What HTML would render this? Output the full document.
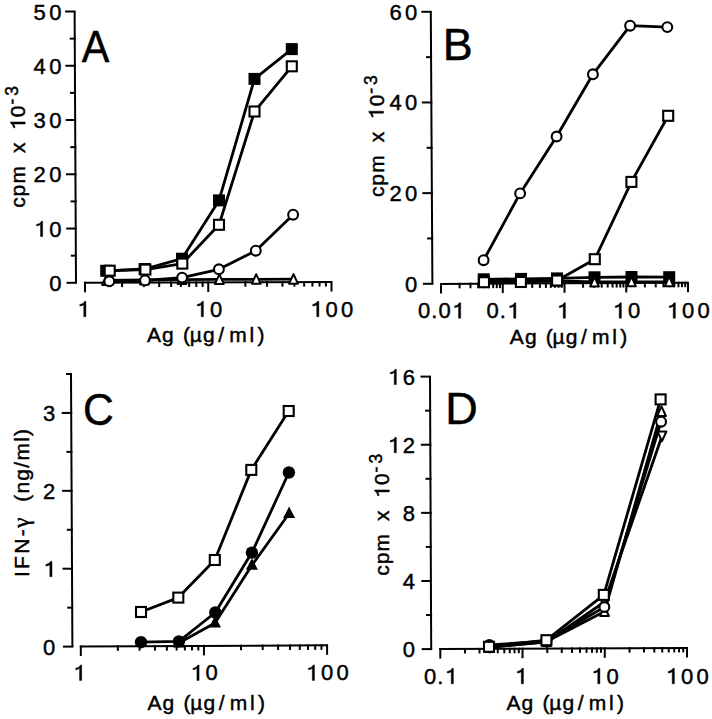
<!DOCTYPE html>
<html><head><meta charset="utf-8"><style>
html,body{margin:0;padding:0;background:#fff;}
body{width:712px;height:719px;overflow:hidden;}
svg{display:block;}
text{font-family:"Liberation Sans", sans-serif;fill:#000;stroke:#000;stroke-width:0.45px;}
</style></head><body>
<svg width="712" height="719" viewBox="0 0 712 719">
<rect width="712" height="719" fill="#fff"/>
<g stroke="#000" fill="none" stroke-linecap="butt">
<line x1="76" y1="282.8" x2="74.6" y2="11.5" stroke-width="2"/>
<line x1="66.5" y1="282.8" x2="77" y2="282.8" stroke-width="2"/>
<line x1="66.22" y1="228.54" x2="76.72" y2="228.54" stroke-width="2"/>
<line x1="65.94" y1="174.28" x2="76.44" y2="174.28" stroke-width="2"/>
<line x1="65.66" y1="120.02" x2="76.16" y2="120.02" stroke-width="2"/>
<line x1="65.38" y1="65.76" x2="75.88" y2="65.76" stroke-width="2"/>
<line x1="65.1" y1="11.5" x2="75.6" y2="11.5" stroke-width="2"/>
<line x1="70.86" y1="255.67" x2="76.86" y2="255.67" stroke-width="2"/>
<line x1="70.58" y1="201.41" x2="76.58" y2="201.41" stroke-width="2"/>
<line x1="70.3" y1="147.15" x2="76.3" y2="147.15" stroke-width="2"/>
<line x1="70.02" y1="92.89" x2="76.02" y2="92.89" stroke-width="2"/>
<line x1="69.74" y1="38.63" x2="75.74" y2="38.63" stroke-width="2"/>
<text x="64.7" y="290.8" font-size="22" text-anchor="end" letter-spacing="3.3">0</text>
<text x="64.7" y="236.54" font-size="22" text-anchor="end" letter-spacing="3.3">&#x2007;0</text>
<path transform="translate(33.63,236.54) scale(0.010742,-0.010742)" d="M640 0H840V1430H720Q620 1180 270 1130V990Q500 1010 640 1120Z" fill="#000" stroke="#000" stroke-width="41.89"/>
<text x="64.7" y="182.28" font-size="22" text-anchor="end" letter-spacing="3.3">20</text>
<text x="64.7" y="128.02" font-size="22" text-anchor="end" letter-spacing="3.3">30</text>
<text x="64.7" y="73.76" font-size="22" text-anchor="end" letter-spacing="3.3">40</text>
<text x="64.7" y="19.5" font-size="22" text-anchor="end" letter-spacing="3.3">50</text>
<line x1="84" y1="282.8" x2="331.5" y2="282" stroke-width="2"/>
<line x1="85" y1="281.8" x2="85" y2="292.3" stroke-width="2"/>
<line x1="122.1" y1="281.68" x2="122.1" y2="287.18" stroke-width="2"/>
<line x1="143.81" y1="281.61" x2="143.81" y2="287.11" stroke-width="2"/>
<line x1="159.2" y1="281.56" x2="159.2" y2="287.06" stroke-width="2"/>
<line x1="171.15" y1="281.52" x2="171.15" y2="287.02" stroke-width="2"/>
<line x1="180.91" y1="281.49" x2="180.91" y2="286.99" stroke-width="2"/>
<line x1="189.16" y1="281.46" x2="189.16" y2="286.96" stroke-width="2"/>
<line x1="196.31" y1="281.44" x2="196.31" y2="286.94" stroke-width="2"/>
<line x1="202.61" y1="281.42" x2="202.61" y2="286.92" stroke-width="2"/>
<line x1="208.25" y1="281.4" x2="208.25" y2="291.9" stroke-width="2"/>
<line x1="245.35" y1="281.28" x2="245.35" y2="286.78" stroke-width="2"/>
<line x1="267.06" y1="281.21" x2="267.06" y2="286.71" stroke-width="2"/>
<line x1="282.45" y1="281.16" x2="282.45" y2="286.66" stroke-width="2"/>
<line x1="294.4" y1="281.12" x2="294.4" y2="286.62" stroke-width="2"/>
<line x1="304.16" y1="281.09" x2="304.16" y2="286.59" stroke-width="2"/>
<line x1="312.41" y1="281.06" x2="312.41" y2="286.56" stroke-width="2"/>
<line x1="319.56" y1="281.04" x2="319.56" y2="286.54" stroke-width="2"/>
<line x1="325.86" y1="281.02" x2="325.86" y2="286.52" stroke-width="2"/>
<line x1="331.5" y1="281" x2="331.5" y2="291.5" stroke-width="2"/>
<text x="84.65" y="316.7" font-size="22" text-anchor="middle" letter-spacing="3.3">&#x2007;</text>
<path transform="translate(76.88,316.7) scale(0.010742,-0.010742)" d="M640 0H840V1430H720Q620 1180 270 1130V990Q500 1010 640 1120Z" fill="#000" stroke="#000" stroke-width="41.89"/>
<text x="209.9" y="316.7" font-size="22" text-anchor="middle" letter-spacing="3.3">&#x2007;0</text>
<path transform="translate(194.36,316.7) scale(0.010742,-0.010742)" d="M640 0H840V1430H720Q620 1180 270 1130V990Q500 1010 640 1120Z" fill="#000" stroke="#000" stroke-width="41.89"/>
<text x="333.15" y="316.7" font-size="22" text-anchor="middle" letter-spacing="3.3">&#x2007;00</text>
<path transform="translate(309.85,316.7) scale(0.010742,-0.010742)" d="M640 0H840V1430H720Q620 1180 270 1130V990Q500 1010 640 1120Z" fill="#000" stroke="#000" stroke-width="41.89"/>
<text transform="translate(81.8,61.5) scale(0.92,1)" font-size="45">A</text>
<g transform="translate(25.2,208.1) rotate(-90)"><text x="0.38 11.68 24.55 45 55.05 70 77.51 90.96" font-size="21">cpm x &#x2007;0<tspan x="103.49 112.43" font-size="17.5" dy="-7">-3</tspan></text><path transform="translate(77.51,0) scale(0.010254,-0.010254)" d="M640 0H840V1430H720Q620 1180 270 1130V990Q500 1010 640 1120Z" fill="#000" stroke="#000" stroke-width="43.89"/></g>
<text x="146.9 162.1 172.5 182.9 189.7 203 218.3 229.15 249.56 257.4" y="341.9" font-size="21">Ag (µg/ml)</text>
<polyline fill="none" stroke-width="2.8" stroke-linejoin="round" points="106.5,280.4 144.5,280 182,279.6 219.4,279.4 256.2,279.3 293.5,279.2"/>
<polyline fill="none" stroke-width="2.8" stroke-linejoin="round" points="109.3,281.3 145,280.4 182.1,277.6 218.9,269.3 255.8,250.7 293.1,214.7"/>
<polyline fill="none" stroke-width="2.8" stroke-linejoin="round" points="106.2,270.8 144.6,269 182,258.7 219,200.4 254.5,78.9 291.8,49.1"/>
<polyline fill="none" stroke-width="2.8" stroke-linejoin="round" points="109.7,270.7 145.4,269.6 182.3,263.6 219,224.8 254.5,111.5 291.8,66.3"/>
<polygon fill="#fff" stroke-width="2" stroke-linejoin="round" points="106.5,275.3 110.9,284.9 102.1,284.9"/>
<polygon fill="#fff" stroke-width="2" stroke-linejoin="round" points="144.5,274.9 148.9,284.5 140.1,284.5"/>
<polygon fill="#fff" stroke-width="2" stroke-linejoin="round" points="182,274.5 186.4,284.1 177.6,284.1"/>
<polygon fill="#fff" stroke-width="2" stroke-linejoin="round" points="219.4,274.3 223.8,283.9 215,283.9"/>
<polygon fill="#fff" stroke-width="2" stroke-linejoin="round" points="256.2,274.2 260.6,283.8 251.8,283.8"/>
<polygon fill="#fff" stroke-width="2" stroke-linejoin="round" points="293.5,274.1 297.9,283.7 289.1,283.7"/>
<circle cx="109.3" cy="281.3" r="4.9" fill="#fff" stroke-width="2.1"/>
<circle cx="145" cy="280.4" r="4.9" fill="#fff" stroke-width="2.1"/>
<circle cx="182.1" cy="277.6" r="4.9" fill="#fff" stroke-width="2.1"/>
<circle cx="218.9" cy="269.3" r="4.9" fill="#fff" stroke-width="2.1"/>
<circle cx="255.8" cy="250.7" r="4.9" fill="#fff" stroke-width="2.1"/>
<circle cx="293.1" cy="214.7" r="4.9" fill="#fff" stroke-width="2.1"/>
<rect x="100.2" y="264.8" width="12" height="12" fill="#000" stroke="none"/>
<rect x="138.6" y="263" width="12" height="12" fill="#000" stroke="none"/>
<rect x="176" y="252.7" width="12" height="12" fill="#000" stroke="none"/>
<rect x="213" y="194.4" width="12" height="12" fill="#000" stroke="none"/>
<rect x="248.5" y="72.9" width="12" height="12" fill="#000" stroke="none"/>
<rect x="285.8" y="43.1" width="12" height="12" fill="#000" stroke="none"/>
<rect x="104.7" y="265.7" width="10" height="10" fill="#fff" stroke-width="2.1"/>
<rect x="140.4" y="264.6" width="10" height="10" fill="#fff" stroke-width="2.1"/>
<rect x="177.3" y="258.6" width="10" height="10" fill="#fff" stroke-width="2.1"/>
<rect x="214" y="219.8" width="10" height="10" fill="#fff" stroke-width="2.1"/>
<rect x="249.5" y="106.5" width="10" height="10" fill="#fff" stroke-width="2.1"/>
<rect x="286.8" y="61.3" width="10" height="10" fill="#fff" stroke-width="2.1"/>
<line x1="432.4" y1="283.8" x2="430.8" y2="11.8" stroke-width="2"/>
<line x1="422.9" y1="283.8" x2="433.4" y2="283.8" stroke-width="2"/>
<line x1="422.37" y1="193.13" x2="432.87" y2="193.13" stroke-width="2"/>
<line x1="421.83" y1="102.47" x2="432.33" y2="102.47" stroke-width="2"/>
<line x1="421.3" y1="11.8" x2="431.8" y2="11.8" stroke-width="2"/>
<line x1="427.13" y1="238.47" x2="433.13" y2="238.47" stroke-width="2"/>
<line x1="426.6" y1="147.8" x2="432.6" y2="147.8" stroke-width="2"/>
<line x1="426.07" y1="57.13" x2="432.07" y2="57.13" stroke-width="2"/>
<text x="420.5" y="291.8" font-size="22" text-anchor="end" letter-spacing="3.3">0</text>
<text x="420.5" y="201.13" font-size="22" text-anchor="end" letter-spacing="3.3">20</text>
<text x="420.5" y="110.47" font-size="22" text-anchor="end" letter-spacing="3.3">40</text>
<text x="420.5" y="19.8" font-size="22" text-anchor="end" letter-spacing="3.3">60</text>
<line x1="440" y1="283.9" x2="688" y2="282.7" stroke-width="2"/>
<line x1="441" y1="282.9" x2="441" y2="293.4" stroke-width="2"/>
<line x1="459.59" y1="282.81" x2="459.59" y2="288.31" stroke-width="2"/>
<line x1="470.46" y1="282.76" x2="470.46" y2="288.26" stroke-width="2"/>
<line x1="478.18" y1="282.72" x2="478.18" y2="288.22" stroke-width="2"/>
<line x1="484.16" y1="282.69" x2="484.16" y2="288.19" stroke-width="2"/>
<line x1="489.05" y1="282.67" x2="489.05" y2="288.17" stroke-width="2"/>
<line x1="493.18" y1="282.65" x2="493.18" y2="288.15" stroke-width="2"/>
<line x1="496.77" y1="282.63" x2="496.77" y2="288.13" stroke-width="2"/>
<line x1="499.92" y1="282.61" x2="499.92" y2="288.11" stroke-width="2"/>
<line x1="502.75" y1="282.6" x2="502.75" y2="293.1" stroke-width="2"/>
<line x1="521.34" y1="282.51" x2="521.34" y2="288.01" stroke-width="2"/>
<line x1="532.21" y1="282.46" x2="532.21" y2="287.96" stroke-width="2"/>
<line x1="539.93" y1="282.42" x2="539.93" y2="287.92" stroke-width="2"/>
<line x1="545.91" y1="282.39" x2="545.91" y2="287.89" stroke-width="2"/>
<line x1="550.8" y1="282.37" x2="550.8" y2="287.87" stroke-width="2"/>
<line x1="554.93" y1="282.35" x2="554.93" y2="287.85" stroke-width="2"/>
<line x1="558.52" y1="282.33" x2="558.52" y2="287.83" stroke-width="2"/>
<line x1="561.67" y1="282.31" x2="561.67" y2="287.81" stroke-width="2"/>
<line x1="564.5" y1="282.3" x2="564.5" y2="292.8" stroke-width="2"/>
<line x1="583.09" y1="282.21" x2="583.09" y2="287.71" stroke-width="2"/>
<line x1="593.96" y1="282.16" x2="593.96" y2="287.66" stroke-width="2"/>
<line x1="601.68" y1="282.12" x2="601.68" y2="287.62" stroke-width="2"/>
<line x1="607.66" y1="282.09" x2="607.66" y2="287.59" stroke-width="2"/>
<line x1="612.55" y1="282.07" x2="612.55" y2="287.57" stroke-width="2"/>
<line x1="616.68" y1="282.05" x2="616.68" y2="287.55" stroke-width="2"/>
<line x1="620.27" y1="282.03" x2="620.27" y2="287.53" stroke-width="2"/>
<line x1="623.42" y1="282.01" x2="623.42" y2="287.51" stroke-width="2"/>
<line x1="626.25" y1="282" x2="626.25" y2="292.5" stroke-width="2"/>
<line x1="644.84" y1="281.91" x2="644.84" y2="287.41" stroke-width="2"/>
<line x1="655.71" y1="281.86" x2="655.71" y2="287.36" stroke-width="2"/>
<line x1="663.43" y1="281.82" x2="663.43" y2="287.32" stroke-width="2"/>
<line x1="669.41" y1="281.79" x2="669.41" y2="287.29" stroke-width="2"/>
<line x1="674.3" y1="281.77" x2="674.3" y2="287.27" stroke-width="2"/>
<line x1="678.43" y1="281.75" x2="678.43" y2="287.25" stroke-width="2"/>
<line x1="682.02" y1="281.73" x2="682.02" y2="287.23" stroke-width="2"/>
<line x1="685.17" y1="281.71" x2="685.17" y2="287.21" stroke-width="2"/>
<line x1="688" y1="281.7" x2="688" y2="292.2" stroke-width="2"/>
<text x="441.5" y="318.2" font-size="22" text-anchor="middle" letter-spacing="1">0.0&#x2007;</text>
<path transform="translate(451.67,318.2) scale(0.010742,-0.010742)" d="M640 0H840V1430H720Q620 1180 270 1130V990Q500 1010 640 1120Z" fill="#000" stroke="#000" stroke-width="41.89"/>
<text x="503.25" y="318.2" font-size="22" text-anchor="middle" letter-spacing="1">0.&#x2007;</text>
<path transform="translate(506.81,318.2) scale(0.010742,-0.010742)" d="M640 0H840V1430H720Q620 1180 270 1130V990Q500 1010 640 1120Z" fill="#000" stroke="#000" stroke-width="41.89"/>
<text x="564.15" y="318.2" font-size="22" text-anchor="middle" letter-spacing="3.3">&#x2007;</text>
<path transform="translate(556.38,318.2) scale(0.010742,-0.010742)" d="M640 0H840V1430H720Q620 1180 270 1130V990Q500 1010 640 1120Z" fill="#000" stroke="#000" stroke-width="41.89"/>
<text x="627.9" y="318.2" font-size="22" text-anchor="middle" letter-spacing="3.3">&#x2007;0</text>
<path transform="translate(612.36,318.2) scale(0.010742,-0.010742)" d="M640 0H840V1430H720Q620 1180 270 1130V990Q500 1010 640 1120Z" fill="#000" stroke="#000" stroke-width="41.89"/>
<text x="689.65" y="318.2" font-size="22" text-anchor="middle" letter-spacing="3.3">&#x2007;00</text>
<path transform="translate(666.35,318.2) scale(0.010742,-0.010742)" d="M640 0H840V1430H720Q620 1180 270 1130V990Q500 1010 640 1120Z" fill="#000" stroke="#000" stroke-width="41.89"/>
<text x="442.7" y="60" font-size="45" text-anchor="start" letter-spacing="0">B</text>
<g transform="translate(383.5,197.3) rotate(-90)"><text x="0.38 11.68 24.55 45 55.05 70 77.51 90.96" font-size="21">cpm x &#x2007;0<tspan x="103.49 112.43" font-size="17.5" dy="-7">-3</tspan></text><path transform="translate(77.51,0) scale(0.010254,-0.010254)" d="M640 0H840V1430H720Q620 1180 270 1130V990Q500 1010 640 1120Z" fill="#000" stroke="#000" stroke-width="43.89"/></g>
<text x="509.7 524.9 535.3 545.7 552.5 565.8 581.1 591.95 612.36 620.2" y="343.9" font-size="21">Ag (µg/ml)</text>
<polyline fill="none" stroke-width="2.8" stroke-linejoin="round" points="484,280.9 521,280.8 557,281 594.5,282 631.5,281.8 669.2,281.8"/>
<polyline fill="none" stroke-width="2.8" stroke-linejoin="round" points="483.7,279.3 521,278.9 557,278.4 594.5,277.3 631.5,277 669.2,277.2"/>
<polyline fill="none" stroke-width="2.8" stroke-linejoin="round" points="483.6,260.2 520.1,193.4 556.6,136.5 592.9,74.3 630.1,25.7 667.3,27.1"/>
<polyline fill="none" stroke-width="2.8" stroke-linejoin="round" points="484,282.2 520.9,282 557.1,280.5 594.8,259.2 631.4,181.9 668.2,115.8"/>
<rect x="477.7" y="273.3" width="12" height="12" fill="#000" stroke="none"/>
<rect x="515" y="272.9" width="12" height="12" fill="#000" stroke="none"/>
<rect x="551" y="272.4" width="12" height="12" fill="#000" stroke="none"/>
<rect x="588.5" y="271.3" width="12" height="12" fill="#000" stroke="none"/>
<rect x="625.5" y="271" width="12" height="12" fill="#000" stroke="none"/>
<rect x="663.2" y="271.2" width="12" height="12" fill="#000" stroke="none"/>
<polygon fill="#fff" stroke-width="2" stroke-linejoin="round" points="484,275.8 488.4,285.4 479.6,285.4"/>
<polygon fill="#fff" stroke-width="2" stroke-linejoin="round" points="521,275.7 525.4,285.3 516.6,285.3"/>
<polygon fill="#fff" stroke-width="2" stroke-linejoin="round" points="557,275.9 561.4,285.5 552.6,285.5"/>
<polygon fill="#fff" stroke-width="2" stroke-linejoin="round" points="594.5,276.9 598.9,286.5 590.1,286.5"/>
<polygon fill="#fff" stroke-width="2" stroke-linejoin="round" points="631.5,276.7 635.9,286.3 627.1,286.3"/>
<polygon fill="#fff" stroke-width="2" stroke-linejoin="round" points="669.2,276.7 673.6,286.3 664.8,286.3"/>
<circle cx="483.6" cy="260.2" r="4.9" fill="#fff" stroke-width="2.1"/>
<circle cx="520.1" cy="193.4" r="4.9" fill="#fff" stroke-width="2.1"/>
<circle cx="556.6" cy="136.5" r="4.9" fill="#fff" stroke-width="2.1"/>
<circle cx="592.9" cy="74.3" r="4.9" fill="#fff" stroke-width="2.1"/>
<circle cx="630.1" cy="25.7" r="4.9" fill="#fff" stroke-width="2.1"/>
<circle cx="667.3" cy="27.1" r="4.9" fill="#fff" stroke-width="2.1"/>
<rect x="479" y="277.2" width="10" height="10" fill="#fff" stroke-width="2.1"/>
<rect x="515.9" y="277" width="10" height="10" fill="#fff" stroke-width="2.1"/>
<rect x="552.1" y="275.5" width="10" height="10" fill="#fff" stroke-width="2.1"/>
<rect x="589.8" y="254.2" width="10" height="10" fill="#fff" stroke-width="2.1"/>
<rect x="626.4" y="176.9" width="10" height="10" fill="#fff" stroke-width="2.1"/>
<rect x="663.2" y="110.8" width="10" height="10" fill="#fff" stroke-width="2.1"/>
<line x1="72.4" y1="646.6" x2="71" y2="374" stroke-width="2"/>
<line x1="62.9" y1="646.6" x2="73.4" y2="646.6" stroke-width="2"/>
<line x1="62.5" y1="568.71" x2="73" y2="568.71" stroke-width="2"/>
<line x1="62.1" y1="490.83" x2="72.6" y2="490.83" stroke-width="2"/>
<line x1="61.7" y1="412.94" x2="72.2" y2="412.94" stroke-width="2"/>
<line x1="67.2" y1="607.66" x2="73.2" y2="607.66" stroke-width="2"/>
<line x1="66.8" y1="529.77" x2="72.8" y2="529.77" stroke-width="2"/>
<line x1="66.4" y1="451.89" x2="72.4" y2="451.89" stroke-width="2"/>
<line x1="66" y1="374" x2="72" y2="374" stroke-width="2"/>
<text x="58.5" y="654.6" font-size="22" text-anchor="end" letter-spacing="3.3">0</text>
<text x="58.5" y="576.71" font-size="22" text-anchor="end" letter-spacing="3.3">&#x2007;</text>
<path transform="translate(42.96,576.71) scale(0.010742,-0.010742)" d="M640 0H840V1430H720Q620 1180 270 1130V990Q500 1010 640 1120Z" fill="#000" stroke="#000" stroke-width="41.89"/>
<text x="58.5" y="498.83" font-size="22" text-anchor="end" letter-spacing="3.3">2</text>
<text x="58.5" y="420.94" font-size="22" text-anchor="end" letter-spacing="3.3">3</text>
<line x1="79.8" y1="646.5" x2="327.1" y2="645.3" stroke-width="2"/>
<line x1="80.8" y1="645.5" x2="80.8" y2="656" stroke-width="2"/>
<line x1="117.87" y1="645.32" x2="117.87" y2="650.82" stroke-width="2"/>
<line x1="139.56" y1="645.21" x2="139.56" y2="650.71" stroke-width="2"/>
<line x1="154.94" y1="645.14" x2="154.94" y2="650.64" stroke-width="2"/>
<line x1="166.88" y1="645.08" x2="166.88" y2="650.58" stroke-width="2"/>
<line x1="176.63" y1="645.03" x2="176.63" y2="650.53" stroke-width="2"/>
<line x1="184.87" y1="644.99" x2="184.87" y2="650.49" stroke-width="2"/>
<line x1="192.02" y1="644.96" x2="192.02" y2="650.46" stroke-width="2"/>
<line x1="198.31" y1="644.93" x2="198.31" y2="650.43" stroke-width="2"/>
<line x1="203.95" y1="644.9" x2="203.95" y2="655.4" stroke-width="2"/>
<line x1="241.02" y1="644.72" x2="241.02" y2="650.22" stroke-width="2"/>
<line x1="262.71" y1="644.61" x2="262.71" y2="650.11" stroke-width="2"/>
<line x1="278.09" y1="644.54" x2="278.09" y2="650.04" stroke-width="2"/>
<line x1="290.03" y1="644.48" x2="290.03" y2="649.98" stroke-width="2"/>
<line x1="299.78" y1="644.43" x2="299.78" y2="649.93" stroke-width="2"/>
<line x1="308.02" y1="644.39" x2="308.02" y2="649.89" stroke-width="2"/>
<line x1="315.17" y1="644.36" x2="315.17" y2="649.86" stroke-width="2"/>
<line x1="321.46" y1="644.33" x2="321.46" y2="649.83" stroke-width="2"/>
<line x1="327.1" y1="644.3" x2="327.1" y2="654.8" stroke-width="2"/>
<text x="80.45" y="680.4" font-size="22" text-anchor="middle" letter-spacing="3.3">&#x2007;</text>
<path transform="translate(72.68,680.4) scale(0.010742,-0.010742)" d="M640 0H840V1430H720Q620 1180 270 1130V990Q500 1010 640 1120Z" fill="#000" stroke="#000" stroke-width="41.89"/>
<text x="205.6" y="680.4" font-size="22" text-anchor="middle" letter-spacing="3.3">&#x2007;0</text>
<path transform="translate(190.06,680.4) scale(0.010742,-0.010742)" d="M640 0H840V1430H720Q620 1180 270 1130V990Q500 1010 640 1120Z" fill="#000" stroke="#000" stroke-width="41.89"/>
<text x="328.75" y="680.4" font-size="22" text-anchor="middle" letter-spacing="3.3">&#x2007;00</text>
<path transform="translate(305.45,680.4) scale(0.010742,-0.010742)" d="M640 0H840V1430H720Q620 1180 270 1130V990Q500 1010 640 1120Z" fill="#000" stroke="#000" stroke-width="41.89"/>
<text transform="translate(82.9,424.8) scale(0.95,1)" font-size="45">C</text>
<g transform="translate(29.3,577.1) rotate(-90)"><text x="0" y="0" font-size="21" letter-spacing="2.3">IFN-</text><text x="49.3" y="0" font-size="23" style="font-family:'Liberation Serif', serif">γ</text><text x="75.3" y="0" font-size="21" letter-spacing="1.25">(ng/ml)</text></g>
<text x="147.4 162.6 173 183.4 190.2 203.5 218.8 229.65 250.06 257.9" y="709.9" font-size="21">Ag (µg/ml)</text>
<polyline fill="none" stroke-width="2.8" stroke-linejoin="round" points="141,612 178.3,597.6 214.8,560 251.3,469.9 288.7,411"/>
<polyline fill="none" stroke-width="2.8" stroke-linejoin="round" points="141,642.2 178.9,641.4 215.3,612.5 251.9,552.6 288.9,472.5"/>
<polyline fill="none" stroke-width="2.8" stroke-linejoin="round" points="178.9,643 215,623 251.9,565.2 289.1,513.5"/>
<rect x="136" y="607" width="10" height="10" fill="#fff" stroke-width="2.1"/>
<rect x="173.3" y="592.6" width="10" height="10" fill="#fff" stroke-width="2.1"/>
<rect x="209.8" y="555" width="10" height="10" fill="#fff" stroke-width="2.1"/>
<rect x="246.3" y="464.9" width="10" height="10" fill="#fff" stroke-width="2.1"/>
<rect x="283.7" y="406" width="10" height="10" fill="#fff" stroke-width="2.1"/>
<polygon fill="#000" stroke="none" points="178.9,636.1 184.9,647.6 172.9,647.6"/>
<polygon fill="#000" stroke="none" points="215,616.1 221,627.6 209,627.6"/>
<polygon fill="#000" stroke="none" points="251.9,558.3 257.9,569.8 245.9,569.8"/>
<polygon fill="#000" stroke="none" points="289.1,506.6 295.1,518.1 283.1,518.1"/>
<circle cx="141" cy="642.2" r="6.2" fill="#000" stroke="none"/>
<circle cx="178.9" cy="641.4" r="6.2" fill="#000" stroke="none"/>
<circle cx="215.3" cy="612.5" r="6.2" fill="#000" stroke="none"/>
<circle cx="251.9" cy="552.6" r="6.2" fill="#000" stroke="none"/>
<circle cx="288.9" cy="472.5" r="6.2" fill="#000" stroke="none"/>
<line x1="431.2" y1="649.1" x2="430" y2="376.6" stroke-width="2"/>
<line x1="421.7" y1="649.1" x2="432.2" y2="649.1" stroke-width="2"/>
<line x1="421.4" y1="580.98" x2="431.9" y2="580.98" stroke-width="2"/>
<line x1="421.1" y1="512.85" x2="431.6" y2="512.85" stroke-width="2"/>
<line x1="420.8" y1="444.73" x2="431.3" y2="444.73" stroke-width="2"/>
<line x1="420.5" y1="376.6" x2="431" y2="376.6" stroke-width="2"/>
<line x1="426.05" y1="615.04" x2="432.05" y2="615.04" stroke-width="2"/>
<line x1="425.75" y1="546.91" x2="431.75" y2="546.91" stroke-width="2"/>
<line x1="425.45" y1="478.79" x2="431.45" y2="478.79" stroke-width="2"/>
<line x1="425.15" y1="410.66" x2="431.15" y2="410.66" stroke-width="2"/>
<text x="418.4" y="657.1" font-size="22" text-anchor="end" letter-spacing="3.3">0</text>
<text x="418.4" y="588.98" font-size="22" text-anchor="end" letter-spacing="3.3">4</text>
<text x="418.4" y="520.85" font-size="22" text-anchor="end" letter-spacing="3.3">8</text>
<text x="418.4" y="452.73" font-size="22" text-anchor="end" letter-spacing="3.3">&#x2007;2</text>
<path transform="translate(387.33,452.73) scale(0.010742,-0.010742)" d="M640 0H840V1430H720Q620 1180 270 1130V990Q500 1010 640 1120Z" fill="#000" stroke="#000" stroke-width="41.89"/>
<text x="418.4" y="384.6" font-size="22" text-anchor="end" letter-spacing="3.3">&#x2007;6</text>
<path transform="translate(387.33,384.6) scale(0.010742,-0.010742)" d="M640 0H840V1430H720Q620 1180 270 1130V990Q500 1010 640 1120Z" fill="#000" stroke="#000" stroke-width="41.89"/>
<line x1="439.3" y1="649.1" x2="687" y2="647.9" stroke-width="2"/>
<line x1="440.3" y1="648.1" x2="440.3" y2="658.6" stroke-width="2"/>
<line x1="465.05" y1="647.98" x2="465.05" y2="653.48" stroke-width="2"/>
<line x1="479.54" y1="647.91" x2="479.54" y2="653.41" stroke-width="2"/>
<line x1="489.81" y1="647.86" x2="489.81" y2="653.36" stroke-width="2"/>
<line x1="497.78" y1="647.82" x2="497.78" y2="653.32" stroke-width="2"/>
<line x1="504.29" y1="647.79" x2="504.29" y2="653.29" stroke-width="2"/>
<line x1="509.8" y1="647.76" x2="509.8" y2="653.26" stroke-width="2"/>
<line x1="514.56" y1="647.74" x2="514.56" y2="653.24" stroke-width="2"/>
<line x1="518.77" y1="647.72" x2="518.77" y2="653.22" stroke-width="2"/>
<line x1="522.53" y1="647.7" x2="522.53" y2="658.2" stroke-width="2"/>
<line x1="547.29" y1="647.58" x2="547.29" y2="653.08" stroke-width="2"/>
<line x1="561.77" y1="647.51" x2="561.77" y2="653.01" stroke-width="2"/>
<line x1="572.04" y1="647.46" x2="572.04" y2="652.96" stroke-width="2"/>
<line x1="580.01" y1="647.42" x2="580.01" y2="652.92" stroke-width="2"/>
<line x1="586.52" y1="647.39" x2="586.52" y2="652.89" stroke-width="2"/>
<line x1="592.03" y1="647.36" x2="592.03" y2="652.86" stroke-width="2"/>
<line x1="596.8" y1="647.34" x2="596.8" y2="652.84" stroke-width="2"/>
<line x1="601" y1="647.32" x2="601" y2="652.82" stroke-width="2"/>
<line x1="604.77" y1="647.3" x2="604.77" y2="657.8" stroke-width="2"/>
<line x1="629.52" y1="647.18" x2="629.52" y2="652.68" stroke-width="2"/>
<line x1="644" y1="647.11" x2="644" y2="652.61" stroke-width="2"/>
<line x1="654.28" y1="647.06" x2="654.28" y2="652.56" stroke-width="2"/>
<line x1="662.25" y1="647.02" x2="662.25" y2="652.52" stroke-width="2"/>
<line x1="668.76" y1="646.99" x2="668.76" y2="652.49" stroke-width="2"/>
<line x1="674.26" y1="646.96" x2="674.26" y2="652.46" stroke-width="2"/>
<line x1="679.03" y1="646.94" x2="679.03" y2="652.44" stroke-width="2"/>
<line x1="683.24" y1="646.92" x2="683.24" y2="652.42" stroke-width="2"/>
<line x1="687" y1="646.9" x2="687" y2="657.4" stroke-width="2"/>
<text x="440.8" y="683.7" font-size="22" text-anchor="middle" letter-spacing="1">0.&#x2007;</text>
<path transform="translate(444.36,683.7) scale(0.010742,-0.010742)" d="M640 0H840V1430H720Q620 1180 270 1130V990Q500 1010 640 1120Z" fill="#000" stroke="#000" stroke-width="41.89"/>
<text x="522.18" y="683.7" font-size="22" text-anchor="middle" letter-spacing="3.3">&#x2007;</text>
<path transform="translate(514.42,683.7) scale(0.010742,-0.010742)" d="M640 0H840V1430H720Q620 1180 270 1130V990Q500 1010 640 1120Z" fill="#000" stroke="#000" stroke-width="41.89"/>
<text x="606.42" y="683.7" font-size="22" text-anchor="middle" letter-spacing="3.3">&#x2007;0</text>
<path transform="translate(590.88,683.7) scale(0.010742,-0.010742)" d="M640 0H840V1430H720Q620 1180 270 1130V990Q500 1010 640 1120Z" fill="#000" stroke="#000" stroke-width="41.89"/>
<text x="688.65" y="683.7" font-size="22" text-anchor="middle" letter-spacing="3.3">&#x2007;00</text>
<path transform="translate(665.35,683.7) scale(0.010742,-0.010742)" d="M640 0H840V1430H720Q620 1180 270 1130V990Q500 1010 640 1120Z" fill="#000" stroke="#000" stroke-width="41.89"/>
<text x="445.3" y="423.5" font-size="45" text-anchor="start" letter-spacing="0">D</text>
<g transform="translate(389.3,576) rotate(-90)"><text x="0.38 11.68 24.55 45 55.05 70 77.51 90.96" font-size="21">cpm x &#x2007;0<tspan x="103.49 112.43" font-size="17.5" dy="-7">-3</tspan></text><path transform="translate(77.51,0) scale(0.010254,-0.010254)" d="M640 0H840V1430H720Q620 1180 270 1130V990Q500 1010 640 1120Z" fill="#000" stroke="#000" stroke-width="43.89"/></g>
<text x="506.4 521.6 532 542.4 549.2 562.5 577.8 588.65 609.06 616.9" y="710.2" font-size="21">Ag (µg/ml)</text>
<polyline fill="none" stroke-width="2.8" stroke-linejoin="round" points="489.3,646.8 546.6,642 604.3,602 662,436"/>
<polyline fill="none" stroke-width="2.8" stroke-linejoin="round" points="489.3,645 546.6,641 604.4,607 661.1,421.7"/>
<polyline fill="none" stroke-width="2.8" stroke-linejoin="round" points="489.3,647.5 546.6,641.5 604.5,611.5 661.5,411.5"/>
<polyline fill="none" stroke-width="2.8" stroke-linejoin="round" points="489,646.8 546.4,640.2 603.8,594.9 660.6,399.4"/>
<polygon fill="#fff" stroke-width="2" stroke-linejoin="round" points="489.3,651.9 493.7,642.3 484.9,642.3"/>
<polygon fill="#fff" stroke-width="2" stroke-linejoin="round" points="546.6,647.1 551,637.5 542.2,637.5"/>
<polygon fill="#fff" stroke-width="2" stroke-linejoin="round" points="604.3,607.1 608.7,597.5 599.9,597.5"/>
<polygon fill="#fff" stroke-width="2" stroke-linejoin="round" points="662,441.1 666.4,431.5 657.6,431.5"/>
<polygon fill="#fff" stroke-width="2" stroke-linejoin="round" points="489.3,642.4 493.7,652 484.9,652"/>
<polygon fill="#fff" stroke-width="2" stroke-linejoin="round" points="546.6,636.4 551,646 542.2,646"/>
<polygon fill="#fff" stroke-width="2" stroke-linejoin="round" points="604.5,606.4 608.9,616 600.1,616"/>
<polygon fill="#fff" stroke-width="2" stroke-linejoin="round" points="661.5,406.4 665.9,416 657.1,416"/>
<circle cx="489.3" cy="645" r="4.9" fill="#fff" stroke-width="2.1"/>
<circle cx="546.6" cy="641" r="4.9" fill="#fff" stroke-width="2.1"/>
<circle cx="604.4" cy="607" r="4.9" fill="#fff" stroke-width="2.1"/>
<circle cx="661.1" cy="421.7" r="4.9" fill="#fff" stroke-width="2.1"/>
<rect x="484" y="641.8" width="10" height="10" fill="#fff" stroke-width="2.1"/>
<rect x="541.4" y="635.2" width="10" height="10" fill="#fff" stroke-width="2.1"/>
<rect x="598.8" y="589.9" width="10" height="10" fill="#fff" stroke-width="2.1"/>
<rect x="655.6" y="394.4" width="10" height="10" fill="#fff" stroke-width="2.1"/>
</g>
</svg>
</body></html>
